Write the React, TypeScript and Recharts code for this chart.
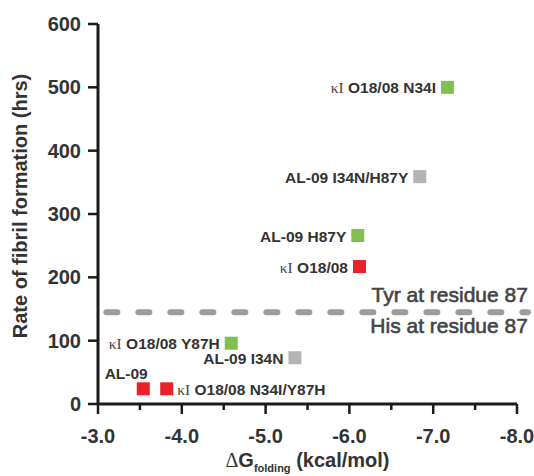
import React from 'react';
import { ScatterChart, Scatter, XAxis, YAxis, ReferenceLine, Label } from 'recharts';

// variants, folding free energy (kcal/mol) and fibril formation time (hrs)
const names = [
  'κI O18/08 N34I',
  'AL-09 I34N/H87Y',
  'AL-09 H87Y',
  'κI O18/08',
  'κI O18/08 Y87H',
  'AL-09 I34N',
  'AL-09',
  'κI O18/08 N34I/Y87H',
];
const dG = [-7.17, -6.84, -6.1, -6.12, -4.59, -5.35, -3.54, -3.82];
const rate = [500, 359, 266, 217, 96, 73, 24, 24];
const group = ['green', 'gray', 'green', 'red', 'green', 'gray', 'red', 'red'];

const xTicks = [-3, -3.5, -4, -4.5, -5, -5.5, -6, -6.5, -7, -7.5, -8];
const yTicks = [0, 100, 200, 300, 400, 500, 600];

const thresholdRate = 145;
const thresholdSpan = [-3.1, -8.13];
const aboveText = 'Tyr at residue 87';
const belowText = 'His at residue 87';

const colors: Record<string, string> = {
  green: '#7fc04e',
  gray: '#b4b4b6',
  red: '#e8212b',
};

// where each point's label sits relative to its square (default: left)
const labelSide: Record<string, string> = {
  'AL-09': 'above',
  'κI O18/08 N34I/Y87H': 'right',
};

const SANS = '"Liberation Sans", Arial, sans-serif';
const SERIF = '"Liberation Serif", "Times New Roman", serif';
const AXIS = '#1a1a1a';
const TEXT = '#333';

const points = names.map((name, i) => ({ name, dG: dG[i], rate: rate[i], group: group[i] }));

const renderPoint = (color: string) => (props: any) => {
  const { cx, cy, payload } = props;
  const s = 13;
  const side = labelSide[payload.name] || 'left';
  let tx = cx - s / 2 - 5;
  let ty = cy;
  let anchor = 'end';
  if (side === 'right') {
    tx = cx + s / 2 + 4;
    anchor = 'start';
  } else if (side === 'above') {
    tx = cx + s / 2 - 2;
    ty = cy - 16;
  }
  const kappa = payload.name.startsWith('κI');
  const rest = kappa ? payload.name.slice(2) : payload.name;
  return (
    <g>
      <rect x={cx - s / 2} y={cy - s / 2} width={s} height={s} fill={color} />
      <text x={tx} y={ty} textAnchor={anchor} dominantBaseline="central" fontSize={15.5} fill={TEXT}>
        {kappa && (
          <tspan fontFamily={SERIF} fontWeight="normal" fill="#444">
            κI
          </tspan>
        )}
        <tspan fontFamily={SANS} fontWeight="bold">
          {rest}
        </tspan>
      </text>
    </g>
  );
};

const XTick = ({ x, y, payload }: any) => {
  const v = payload.value;
  const major = Number.isInteger(v);
  return (
    <g>
      <line x1={x} x2={x} y1={y} y2={y + (major ? 10 : 6)} stroke={AXIS} strokeWidth={2.5} />
      {major && (
        <text x={x} y={y + 39} textAnchor="middle" fontFamily={SANS} fontWeight="bold" fontSize={20} fill={TEXT}>
          {v.toFixed(1)}
        </text>
      )}
    </g>
  );
};

const thresholdLabel = (text: string, dy: number) => (p: any) => {
  const vb = p.viewBox || {};
  const right = Math.max(vb.x, vb.x + (vb.width || 0));
  return (
    <text
      x={right}
      y={vb.y + dy}
      textAnchor="end"
      fontFamily={SANS}
      fontSize={21}
      fill="#444"
      stroke="#444"
      strokeWidth={0.6}
    >
      {text}
    </text>
  );
};

const YTitle = (p: any) => {
  const vb = p.viewBox;
  const cx = vb.x + 20;
  const cy = vb.y + vb.height / 2 - 8;
  return (
    <text
      x={cx}
      y={cy}
      transform={`rotate(-90, ${cx}, ${cy})`}
      textAnchor="middle"
      dominantBaseline="central"
      fontFamily={SANS}
      fontWeight="bold"
      fontSize={20}
      fill={TEXT}
    >
      Rate of fibril formation (hrs)
    </text>
  );
};

const XTitle = (p: any) => {
  const vb = p.viewBox;
  return (
    <text x={vb.x + vb.width / 2} y={vb.y + 63} textAnchor="middle" fontSize={20} fill={TEXT}>
      <tspan fontFamily={SERIF}>Δ</tspan>
      <tspan fontFamily={SANS} fontWeight="bold">G</tspan>
      <tspan fontFamily={SANS} fontWeight="bold" fontSize={11} dy={5}>folding</tspan>
      <tspan fontFamily={SANS} fontWeight="bold" dy={-5}> (kcal/mol)</tspan>
    </text>
  );
};

export default function App() {
  const groups = ['green', 'gray', 'red'];
  return (
    <div style={{ position: 'absolute', left: 0, top: 0, background: '#fff' }}>
      <ScatterChart width={534} height={476} margin={{ top: 24, right: 17, bottom: 0, left: 0 }}>
        <XAxis
          type="number"
          dataKey="dG"
          domain={[-8, -3]}
          reversed
          ticks={xTicks}
          interval={0}
          height={72}
          tickSize={0}
          tickMargin={0}
          tickLine={false}
          tick={<XTick />}
          axisLine={{ stroke: AXIS, strokeWidth: 3 }}
          label={<Label content={XTitle} />}
        />
        <YAxis
          type="number"
          dataKey="rate"
          domain={[0, 600]}
          ticks={yTicks}
          interval={0}
          width={98}
          tickSize={10}
          tickMargin={7}
          tickLine={{ stroke: AXIS, strokeWidth: 2.5 }}
          axisLine={{ stroke: AXIS, strokeWidth: 3 }}
          tick={{ fontFamily: SANS, fontWeight: 'bold', fontSize: 20, fill: TEXT }}
          label={<Label content={YTitle} />}
        />
        <ReferenceLine
          segment={[
            { x: thresholdSpan[0], y: thresholdRate },
            { x: thresholdSpan[1], y: thresholdRate },
          ]}
          ifOverflow="visible"
          stroke="#9c9c9c"
          strokeWidth={6}
          strokeDasharray="11 21"
          strokeLinecap="round"
        >
          <Label content={thresholdLabel(aboveText, -10)} />
          <Label content={thresholdLabel(belowText, 21)} />
        </ReferenceLine>
        {groups.map((g) => (
          <Scatter
            key={g}
            data={points.filter((pt) => pt.group === g)}
            fill={colors[g]}
            shape={renderPoint(colors[g])}
            isAnimationActive={false}
          />
        ))}
      </ScatterChart>
    </div>
  );
}
